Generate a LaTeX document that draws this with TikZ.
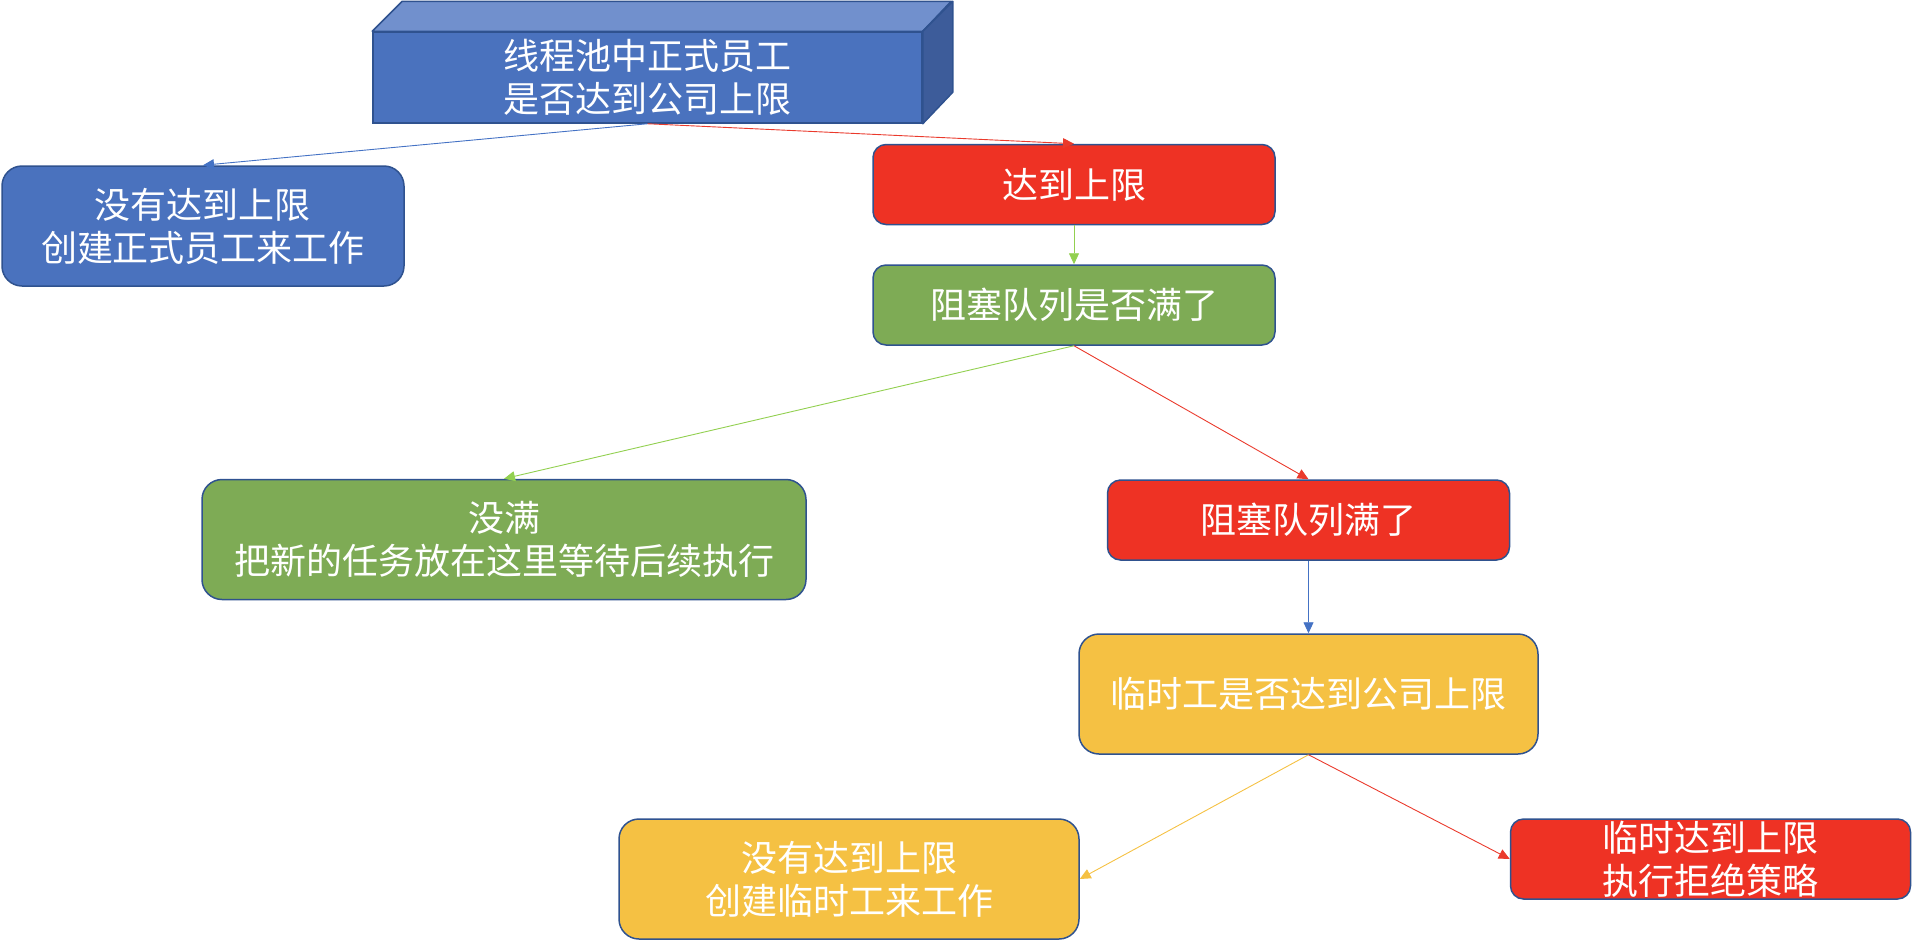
\documentclass[tikz,border=0pt]{standalone}
\usepackage{fontspec}
\setmainfont{Noto Sans CJK SC}
\usetikzlibrary{arrows.meta}
\definecolor{bfill}{HTML}{4A72BE}
\definecolor{btop}{HTML}{7190CD}
\definecolor{bside}{HTML}{3D5C9A}
\definecolor{bline}{HTML}{2F528F}
\definecolor{rfill}{HTML}{EE3224}
\definecolor{gfill}{HTML}{7EAB55}
\definecolor{yfill}{HTML}{F5C143}
\definecolor{ablue}{HTML}{4472C4}
\definecolor{ared}{HTML}{EA3A2C}
\definecolor{agreen}{HTML}{92D050}
\definecolor{ayellow}{HTML}{F5C143}
\begin{document}
\begin{tikzpicture}[x=1pt,y=-1pt,
  box/.style={draw=bline, line width=1.5pt, text=white, align=center, inner sep=0pt,
    font=\fontsize{36}{43}\selectfont},
  small/.style={box, rounded corners=13pt, minimum width=402pt, minimum height=80pt},
  big/.style={box, rounded corners=20pt, minimum height=120pt},
  conn/.style={line width=0.9pt, -{Triangle[length=11pt,width=10pt]}}]
\useasboundingbox (0,0) rectangle (1912,946);
% 3D top box
\node[box, fill=bfill, minimum width=549pt, minimum height=91pt] (top) at (647.5,77.5)
  {线程池中正式员工\\是否达到公司上限};
\draw[draw=bline, line width=1.5pt, fill=btop, line join=round]
  (top.north west) -- ++(30,-30) -- ++(549,0) -- (top.north east) -- cycle;
\draw[draw=bline, line width=1.5pt, fill=bside, line join=round]
  (top.north east) -- ++(30,-30) -- ++(0,91) -- (top.south east) -- cycle;
% boxes
\node[big, fill=bfill, minimum width=402pt] (blue2) at (203,226) {没有达到上限\\创建正式员工来工作};
\node[small, fill=rfill] (red1) at (1074,184.5) {达到上限};
\node[small, fill=gfill] (green1) at (1074,305) {阻塞队列是否满了};
\node[big, fill=gfill, minimum width=604pt] (green2) at (504,539.5) {没满\\把新的任务放在这里等待后续执行};
\node[small, fill=rfill] (red2) at (1308.5,520) {阻塞队列满了};
\node[big, fill=yfill, minimum width=459pt] (yellow1) at (1308.5,694) {临时工是否达到公司上限};
\node[big, fill=yfill, minimum width=460pt] (yellow2) at (849,879) {没有达到上限\\创建临时工来工作};
\node[small, fill=rfill, minimum width=400pt] (red3) at (1710.5,859) {临时达到上限\\执行拒绝策略};
% connectors
\draw[conn, ablue] (top.south) -- (blue2.north);
\draw[conn, ared] (top.south) -- (red1.north);
\draw[conn, agreen] (red1.south) -- (green1.north);
\draw[conn, agreen] (green1.south) -- (green2.north);
\draw[conn, ared] (green1.south) -- (red2.north);
\draw[conn, ablue] (red2.south) -- (yellow1.north);
\draw[conn, ayellow] (yellow1.south) -- (yellow2.east);
\draw[conn, ared] (yellow1.south) -- (red3.west);
\end{tikzpicture}
\end{document}
